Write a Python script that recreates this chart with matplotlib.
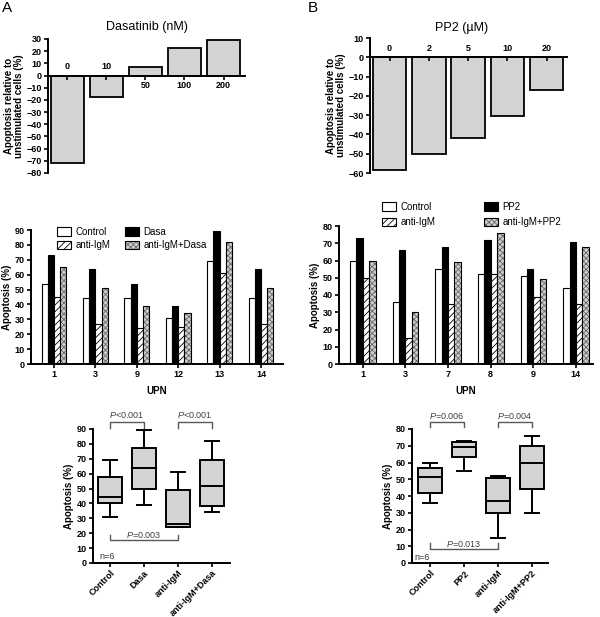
import matplotlib
matplotlib.use("Agg")
import matplotlib.pyplot as plt
from matplotlib.patches import Patch

plt.rcParams["font.family"] = ["Liberation Sans", "DejaVu Sans"]
plt.rcParams["mathtext.fontset"] = "custom"
plt.rcParams["mathtext.it"] = "Liberation Sans:italic"
plt.rcParams["mathtext.rm"] = "Liberation Sans"
plt.rcParams["hatch.linewidth"] = 0.6

# ---- DATA ----
dasa_doses = ["0", "10", "50", "100", "200"]
dasa_rel = [-72, -18, 7, 23, 29]
pp2_doses = ["0", "2", "5", "10", "20"]
pp2_rel = [-58.5, -50, -42, -30.5, -17]

upn_a = ["1", "3", "9", "12", "13", "14"]
a_control = [54, 44, 44, 31, 69, 44]
a_dasa = [73, 64, 54, 39, 89, 64]
a_igm = [45, 27, 24, 25, 61, 27]
a_combo = [65, 51, 39, 34, 82, 51]

upn_b = ["1", "3", "7", "8", "9", "14"]
b_control = [60, 36, 55, 52, 51, 44]
b_pp2 = [73, 66, 68, 72, 55, 71]
b_igm = [50, 15, 35, 52, 39, 35]
b_combo = [60, 30, 59, 76, 49, 68]

box_a_labels = ["Control", "Dasa", "anti-IgM", "anti-IgM+Dasa"]
box_a_lo = [31, 39, 24, 34]
box_a_q1 = [40.5, 50, 24.5, 38]
box_a_med = [44, 64, 26, 51.5]
box_a_q3 = [58, 77, 49, 69]
box_a_hi = [69, 89, 61, 82]

box_b_labels = ["Control", "PP2", "anti-IgM", "anti-IgM+PP2"]
box_b_lo = [36, 55, 15, 30]
box_b_q1 = [42, 63, 30, 44]
box_b_med = [51.5, 69.5, 37, 59.5]
box_b_q3 = [56.5, 72.5, 50.5, 70]
box_b_hi = [60, 73, 52, 76]

# ---- LAYOUT ----
W, H = 600, 617
fig = plt.figure(figsize=(W / 100, H / 100), dpi=100)


def px_axes(x0, y0, x1, y1):
    return fig.add_axes([x0 / W, 1 - y1 / H, (x1 - x0) / W, (y1 - y0) / H])


def ftxt(x, y, s, **kw):
    fig.text(x / W, 1 - y / H, s, **kw)


def style_axes(ax):
    for s in ["top", "right"]:
        ax.spines[s].set_visible(False)
    for s in ["left", "bottom"]:
        ax.spines[s].set_linewidth(1.4)
    ax.tick_params(direction="out", length=3, width=1.2, labelsize=6.5, pad=1.5)
    for lab in ax.get_yticklabels() + ax.get_xticklabels():
        lab.set_fontweight("bold")


def dose_panel(ax, doses, vals, ylim, yticks):
    x = list(range(len(vals)))
    ax.bar(x, vals, width=0.85, color="#d3d3d3", edgecolor="black", linewidth=1.3)
    ax.set_ylim(*ylim)
    ax.set_yticks(yticks)
    ax.set_xticks(x)
    ax.set_xticklabels([])
    ax.spines["bottom"].set_position(("data", 0))
    style_axes(ax)
    for i, (d, v) in enumerate(zip(doses, vals)):
        ax.annotate(d, (i, 0), xytext=(0, 9 if v < 0 else -10), textcoords="offset pixels",
                    ha="center", va="center", fontsize=6.5, fontweight="bold")
    ax.set_ylabel("Apoptosis relative to\nunstimulated cells (%)", fontsize=7,
                  fontweight="bold", labelpad=2, linespacing=1.0)


# fill, hatch, hatch colour for Control / drug / anti-IgM / combination
bar_styles = [("white", None, None), ("black", None, None),
              ("white", "/////", "black"), ("#cfcfcf", "xxxxxx", "0.4")]


def upn_panel(ax, upns, series, labels, ymax):
    w = 0.15
    x = list(range(len(upns)))
    handles = []
    for k, (vals, (fc, hatch, hc)) in enumerate(zip(series, bar_styles)):
        pos = [i + (k - 1.5) * w for i in x]
        if hatch:
            ax.bar(pos, vals, width=w, color=fc, hatch=hatch, edgecolor=hc, linewidth=0)
            ax.bar(pos, vals, width=w, fill=False, edgecolor="black", linewidth=0.8)
            handles.append((Patch(facecolor=fc, hatch=hatch, edgecolor=hc, linewidth=0),
                            Patch(fill=False, edgecolor="black", linewidth=0.8)))
        else:
            ax.bar(pos, vals, width=w, color=fc, edgecolor="black", linewidth=0.8)
            handles.append(Patch(facecolor=fc, edgecolor="black", linewidth=0.8))
    ax.set_ylim(0, ymax)
    ax.set_yticks(range(0, ymax + 1, 10))
    ax.set_xticks(x)
    ax.set_xticklabels(upns)
    style_axes(ax)
    ax.set_xlabel("UPN", fontsize=7, fontweight="bold", labelpad=5)
    ax.set_ylabel("Apoptosis (%)", fontsize=7, fontweight="bold", labelpad=2)
    order = [0, 2, 1, 3]
    return [handles[i] for i in order], [labels[i] for i in order]


def box_panel(ax, labels, lo, q1, med, q3, hi, ymax):
    stats = [dict(whislo=a, q1=b, med=c, q3=d, whishi=e, fliers=[])
             for a, b, c, d, e in zip(lo, q1, med, q3, hi)]
    ax.bxp(stats, positions=range(len(stats)), widths=0.68, capwidths=0.4,
           showfliers=False, patch_artist=True,
           boxprops=dict(facecolor="#d3d3d3", edgecolor="black", linewidth=1.4),
           whiskerprops=dict(linewidth=1.4), capprops=dict(linewidth=1.4),
           medianprops=dict(color="black", linewidth=1.4))
    ax.set_ylim(0, ymax)
    ax.set_yticks(range(0, ymax + 1, 10))
    ax.set_xticks(range(len(labels)))
    ax.set_xticklabels(labels, rotation=45, ha="right", rotation_mode="anchor")
    style_axes(ax)
    ax.tick_params(axis="x", labelsize=6.5, pad=1)
    ax.set_ylabel("Apoptosis (%)", fontsize=7, fontweight="bold", labelpad=2)


def bracket(ax, x0, x1, y_leg, y_bar, text, y_text):
    ax.plot([x0, x0, x1, x1], [y_leg, y_bar, y_bar, y_leg], color="0.35",
            linewidth=1, clip_on=False)
    ax.text((x0 + x1) / 2, y_text, text, ha="center", va="bottom", fontsize=6.5,
            color="0.25", clip_on=False)


# ---- TOP: dose response ----
ax1 = px_axes(48, 39, 245, 173)
dose_panel(ax1, dasa_doses, dasa_rel, (-80, 30), range(-80, 31, 10))
ax1.set_xlim(-0.49, 4.55)
ftxt(147, 27, "Dasatinib (nM)", ha="center", va="center", fontsize=9)

ax2 = px_axes(370, 38, 567, 173)
dose_panel(ax2, pp2_doses, pp2_rel, (-60, 10), range(-60, 11, 10))
ax2.set_xlim(-0.5, 4.52)
ftxt(462, 28, "PP2 (\u00b5M)", ha="center", va="center", fontsize=9)

# ---- MIDDLE: per patient ----
leg_kw = dict(ncol=2, frameon=False, loc="upper left", fontsize=7, handlelength=1.4,
              handleheight=0.9, handletextpad=0.5, borderpad=0)

ax3 = px_axes(31, 230, 283, 364)
h, l = upn_panel(ax3, upn_a, [a_control, a_dasa, a_igm, a_combo],
                 ["Control", "Dasa", "anti-IgM", "anti-IgM+Dasa"], 90)
ax3.set_xlim(-0.556, 5.53)
ax3.legend(h, l, bbox_to_anchor=(0.085, 1.06), columnspacing=1.5, labelspacing=0.35,
           **leg_kw)

ax4 = px_axes(339, 226, 593, 364)
h, l = upn_panel(ax4, upn_b, [b_control, b_pp2, b_igm, b_combo],
                 ["Control", "PP2", "anti-IgM", "anti-IgM+PP2"], 80)
ax4.set_xlim(-0.56, 5.4)
ax4.legend(h, l, bbox_to_anchor=(0.15, 1.21), columnspacing=5.0, labelspacing=0.55,
           **leg_kw)

# ---- BOTTOM: box plots ----
ax5 = px_axes(93, 429, 230, 563)
box_panel(ax5, box_a_labels, box_a_lo, box_a_q1, box_a_med, box_a_q3, box_a_hi, 90)
ax5.set_xlim(-0.5, 3.53)
bracket(ax5, 0, 1, 91, 95, "$P$<0.001", 95.8)
bracket(ax5, 2, 3, 91, 95, "$P$<0.001", 95.8)
bracket(ax5, 0, 2, 18.8, 15.4, "$P$=0.003", 15.6)
ax5.text(-0.3, 4.7, "n=6", fontsize=6.5, va="center", color="0.2")

ax6 = px_axes(412, 429, 548, 563)
box_panel(ax6, box_b_labels, box_b_lo, box_b_q1, box_b_med, box_b_q3, box_b_hi, 80)
ax6.set_xlim(-0.53, 3.47)
bracket(ax6, 0, 1, 81, 84.2, "$P$=0.006", 85)
bracket(ax6, 2, 3, 81, 84.2, "$P$=0.004", 85)
bracket(ax6, 0, 2, 11.9, 8.4, "$P$=0.013", 8.6)
ax6.text(-0.45, 3, "n=6", fontsize=6.5, va="center", color="0.2")

# panel letters
ftxt(7, 8, "A", ha="center", va="center", fontsize=11)
ftxt(313, 8, "B", ha="center", va="center", fontsize=11)

fig.savefig("out.png", dpi=100)
